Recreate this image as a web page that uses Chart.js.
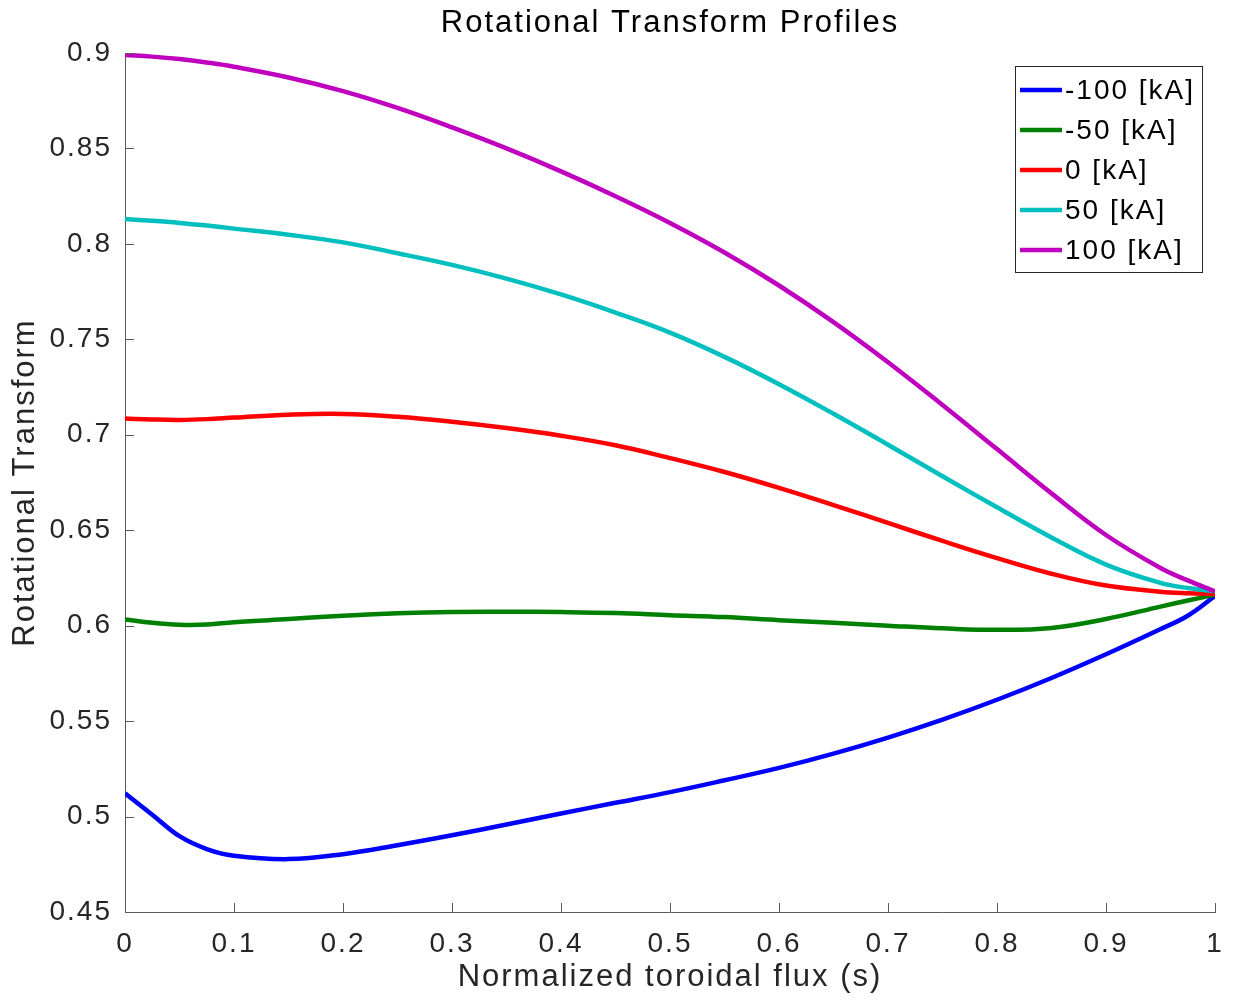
<!DOCTYPE html>
<html lang="en">
<head>
    <meta charset="UTF-8">
    <title>Rotational Transform Profiles</title>
    <script src="https://cdn.jsdelivr.net/npm/chart.js"></script>
    <style>
        html, body {
            margin: 0;
            padding: 0;
            background: #fff;
        }
        #iota-chart {
            display: block;
        }
    </style>
</head>
<body>
    <canvas id="iota-chart" width="1233" height="1004"></canvas>
    <script>
        // normalized toroidal flux s
        const fluxS = [0, 0.025, 0.05, 0.075, 0.1, 0.15, 0.2, 0.25, 0.3, 0.35, 0.4, 0.45,
                       0.5, 0.55, 0.6, 0.65, 0.7, 0.75, 0.8, 0.85, 0.9, 0.95, 0.975, 1];

        // rotational transform for each net toroidal current
        const iotaM100 = [0.5122, 0.5010, 0.4897, 0.4830, 0.4795, 0.4777, 0.4803, 0.4850, 0.4902, 0.4958, 0.5016, 0.5072,
                          0.5128, 0.5190, 0.5255, 0.5330, 0.5414, 0.5508, 0.5612, 0.5726, 0.5850, 0.5982, 0.6052, 0.6155];
        const iotaM50 = [0.6033, 0.6015, 0.6005, 0.6006, 0.6018, 0.6035, 0.6052, 0.6065, 0.6072, 0.6073, 0.6071, 0.6066,
                         0.6055, 0.6045, 0.6029, 0.6015, 0.6000, 0.5986, 0.5978, 0.5988, 0.6035, 0.6100, 0.6132, 0.6162];
        const iota0 = [0.7085, 0.7080, 0.7078, 0.7082, 0.7090, 0.7105, 0.7109, 0.7094, 0.7068, 0.7035, 0.6995, 0.6945,
                       0.6878, 0.6805, 0.6722, 0.6632, 0.6538, 0.6444, 0.6354, 0.6272, 0.6210, 0.6178, 0.6170, 0.6166];
        const iotaP50 = [0.8130, 0.8121, 0.8110, 0.8096, 0.8080, 0.8048, 0.8008, 0.7951, 0.7890, 0.7818, 0.7735, 0.7640,
                         0.7535, 0.7408, 0.7265, 0.7110, 0.6948, 0.6783, 0.6620, 0.6462, 0.6320, 0.6224, 0.6197, 0.6180];
        const iotaP100 = [0.8990, 0.8981, 0.8968, 0.8950, 0.8928, 0.8872, 0.8800, 0.8712, 0.8610, 0.8500, 0.8380, 0.8250,
                          0.8110, 0.7955, 0.7782, 0.7590, 0.7380, 0.7156, 0.6925, 0.6693, 0.6475, 0.6302, 0.6237, 0.6180];

        const currentLabels = ['-100 [kA]', '-50 [kA]', '0 [kA]', '50 [kA]', '100 [kA]'];
        const xTicks = [0, 0.1, 0.2, 0.3, 0.4, 0.5, 0.6, 0.7, 0.8, 0.9, 1];
        const yTicks = [0.45, 0.5, 0.55, 0.6, 0.65, 0.7, 0.75, 0.8, 0.85, 0.9];

        const seriesValues = [iotaM100, iotaM50, iota0, iotaP50, iotaP100];
        const lineColors = ['#0000ff', '#008000', '#ff0000', '#00bfbf', '#bf00bf'];
        const fontFamily = '"Liberation Sans", Arial, Helvetica, sans-serif';
        const axisColor = '#5a5a5a';
        const textColor = '#262626';

        const datasets = seriesValues.map((vals, i) => ({
            label: currentLabels[i],
            data: vals.map((v, k) => ({ x: fluxS[k], y: v })),
            borderColor: lineColors[i],
            backgroundColor: lineColors[i],
            borderWidth: 4.5,
            pointRadius: 0,
            tension: 0.4,
            fill: false,
            order: seriesValues.length - i
        }));

        // wider glyph spacing for all chart text
        const textSpacing = {
            id: 'textSpacing',
            beforeDraw(chart) { chart.ctx.letterSpacing = '2px'; },
            afterDraw(chart) { chart.ctx.letterSpacing = '0px'; }
        };

        // tick marks pointing into the plot area
        const inwardTicks = {
            id: 'inwardTicks',
            afterDatasetsDraw(chart) {
                const { ctx, chartArea: a, scales: { x, y } } = chart;
                ctx.save();
                ctx.strokeStyle = axisColor;
                ctx.lineWidth = 1;
                ctx.beginPath();
                x.ticks.forEach(t => {
                    const px = Math.round(x.getPixelForValue(t.value)) + 0.5;
                    ctx.moveTo(px, a.bottom);
                    ctx.lineTo(px, a.bottom - 9);
                });
                y.ticks.forEach(t => {
                    const py = Math.round(y.getPixelForValue(t.value)) + 0.5;
                    ctx.moveTo(a.left, py);
                    ctx.lineTo(a.left + 9, py);
                });
                ctx.stroke();
                ctx.restore();
            }
        };

        // boxed legend in the upper right corner of the axes
        const boxLegend = {
            id: 'boxLegend',
            afterDatasetsDraw(chart) {
                const { ctx, chartArea: a } = chart;
                const items = chart.data.datasets;
                const rowH = 40, lineLen = 42, gap = 3, padL = 5, padR = 7;
                ctx.save();
                ctx.font = '28px ' + fontFamily;
                ctx.letterSpacing = '2px';
                const textW = Math.max(...items.map(d => ctx.measureText(d.label).width));
                const w = Math.round(padL + lineLen + gap + textW + padR);
                const h = rowH * items.length + 6;
                const right = Math.round(a.right) - 13;
                const top = Math.round(a.top) + 13;
                const left = right - w;
                ctx.fillStyle = '#fff';
                ctx.fillRect(left, top, w, h);
                ctx.strokeStyle = '#262626';
                ctx.lineWidth = 1;
                ctx.strokeRect(left + 0.5, top + 0.5, w, h);
                items.forEach((d, i) => {
                    const cy = top + 24 + i * rowH;
                    ctx.strokeStyle = d.borderColor;
                    ctx.lineWidth = 4.5;
                    ctx.beginPath();
                    ctx.moveTo(left + padL, cy);
                    ctx.lineTo(left + padL + lineLen, cy);
                    ctx.stroke();
                    ctx.fillStyle = '#000';
                    ctx.textAlign = 'left';
                    ctx.textBaseline = 'middle';
                    ctx.fillText(d.label, left + padL + lineLen + gap, cy + 1);
                });
                ctx.restore();
            }
        };

        new Chart(document.getElementById('iota-chart'), {
            type: 'line',
            data: { datasets },
            options: {
                responsive: false,
                animation: false,
                devicePixelRatio: 1,
                layout: { padding: { left: 0, right: 18, top: 0, bottom: 0 } },
                plugins: {
                    legend: { display: false },
                    tooltip: { enabled: false },
                    title: {
                        display: true,
                        fullSize: false,
                        text: 'Rotational Transform Profiles',
                        color: '#000',
                        font: { family: fontFamily, size: 31, weight: 'normal' },
                        padding: { top: 5, bottom: 10.8 }
                    }
                },
                scales: {
                    x: {
                        type: 'linear',
                        min: 0,
                        max: 1,
                        afterFit(scale) {
                            scale.height = 92;
                            scale.paddingLeft = 0;
                            scale.paddingRight = 0;
                        },
                        afterBuildTicks(scale) { scale.ticks = xTicks.map(v => ({ value: v })); },
                        grid: { display: false, drawTicks: false },
                        border: { display: true, color: axisColor, width: 1 },
                        ticks: {
                            color: textColor,
                            padding: 15,
                            maxRotation: 0,
                            font: { family: fontFamily, size: 28 },
                            callback: v => String(+v.toFixed(2))
                        },
                        title: {
                            display: true,
                            text: 'Normalized toroidal flux (s)',
                            color: textColor,
                            font: { family: fontFamily, size: 31 },
                            padding: { top: 0, bottom: 8 }
                        }
                    },
                    y: {
                        type: 'linear',
                        min: 0.45,
                        max: 0.9,
                        afterFit(scale) {
                            scale.width = 125;
                            scale.paddingTop = 0;
                            scale.paddingBottom = 0;
                        },
                        afterBuildTicks(scale) { scale.ticks = yTicks.map(v => ({ value: v })); },
                        grid: { display: false, drawTicks: false },
                        border: { display: true, color: axisColor, width: 1 },
                        ticks: {
                            color: textColor,
                            padding: 13,
                            font: { family: fontFamily, size: 28 },
                            callback: v => String(+v.toFixed(2))
                        },
                        title: {
                            display: true,
                            text: 'Rotational Transform',
                            color: textColor,
                            font: { family: fontFamily, size: 31 },
                            padding: { top: 7, bottom: 0 }
                        }
                    }
                }
            },
            plugins: [textSpacing, inwardTicks, boxLegend]
        });
    </script>
</body>
</html>
